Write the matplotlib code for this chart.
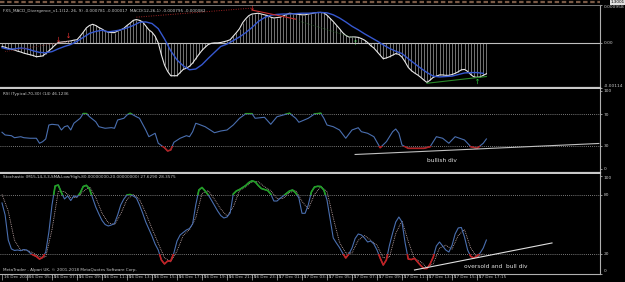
import numpy as np
import matplotlib.pyplot as plt
from matplotlib.patches import Rectangle

plt.rcParams['font.family'] = ['Liberation Sans Narrow', 'DejaVu Sans']

# ---- data: one value per M15 bar (bar 0 = left edge) ----
# FX5 MACD main line / histogram, in units of 1e-5
macd = [-9, -11, -14, -16, -18, -21, -23, -26, -28, -30,
        -32, -35, -34, -33, -27, -20, -13, -5, 1, 2,
        3, 4, 5, 7, 8, 17, 27, 38, 44, 47,
        44, 39, 35, 30, 27, 26, 26, 30, 33, 37,
        44, 50, 57, 59, 57, 53, 43, 33, 27, 17,
        0, -30, -56, -72, -83, -83, -83, -75, -67, -64,
        -59, -51, -40, -29, -19, -11, -4, -1, 0, 0,
        1, 3, 5, 8, 17, 26, 36, 51, 61, 69,
        73, 74, 75, 73, 71, 69, 65, 63, 64, 65,
        68, 72, 75, 74, 73, 72, 71, 71, 73, 74,
        76, 77, 77, 76, 70, 62, 54, 45, 36, 26,
        19, 15, 15, 15, 14, 11, 7, 1, -7, -13,
        -22, -31, -40, -38, -35, -31, -27, -29, -36, -48,
        -62, -70, -76, -81, -87, -94, -100, -94, -87, -84,
        -81, -81, -82, -82, -80, -77, -73, -68, -67, -72,
        -80, -86, -87, -86, -82, -78]
# signal line, every second bar, 1e-5
macd_sig = [-12, -16, -15, -13, -15, -20, -24, -25, -22, -15,
            -9, -4, 4, 14, 24, 29, 32, 28, 30, 33,
            38, 44, 52, 53, 49, 36, 10, -20, -43, -58,
            -68, -66, -55, -39, -24, -9, -3, 6, 15, 26,
            39, 54, 64, 70, 72, 73, 73, 74, 75, 75,
            76, 77, 76, 71, 63, 53, 42, 33, 23, 14,
            5, -5, -14, -21, -27, -40, -52, -64, -75, -84,
            -86, -85, -84, -80, -76, -75, -75, -77]

rsi_bars = [0, 1, 3, 4, 6, 7, 9, 11, 12, 13, 14, 15, 16, 18, 19, 20, 21, 22, 23, 25,
            26, 27, 28, 30, 31, 33, 35, 36, 37, 39, 40, 41, 43, 44, 46, 47, 49, 50, 52, 53,
            54, 55, 57, 59, 60, 61, 62, 63, 65, 68, 70, 72, 74, 76, 78, 80, 81, 84, 86, 88,
            90, 92, 94, 95, 98, 100, 102, 103, 104, 106, 108, 110, 112, 114, 115, 117, 119,
            121, 123, 125, 126, 127, 128, 130, 133, 135, 137, 139, 141, 143, 145, 148, 150,
            152, 154, 155]
rsi_vals = [47.1, 43.6, 42.7, 40.1, 41.4, 40.1, 39.4, 39.4, 33, 35,
            38.5, 56.4, 57.3, 56.4, 50, 54.2, 55.5, 50, 58.6, 65,
            71, 71, 67, 60.6, 54.2, 52.2, 53, 52.2, 62.8, 65,
            69.2, 71.4, 67, 65, 50, 41.4, 45.8, 33, 27.3, 23.1,
            24.4, 34.2, 39.4, 42.7, 41.4, 47.8, 58.6, 57.3, 54.2, 46.5,
            48.7, 50, 56.4, 65, 70.8, 70.8, 65, 66.3, 57.3, 67,
            69.2, 71.4, 65, 59.9, 65, 70.5, 71.4, 65, 56.4, 54.2,
            50, 39.4, 50, 52.9, 47.8, 45.8, 41.4, 27.3, 35, 47.8,
            51.3, 45.8, 30.8, 26.5, 26.5, 26.5, 28.6, 41.4, 39.4, 33,
            41.4, 37.2, 28.6, 26.5, 33, 38.5]

stoch = [72.3, 60, 34.3, 25.2, 23.6, 24.1, 23.4, 24.6, 23.9, 21,
         18.9, 17.5, 14.8, 16.4, 22, 42.5, 70.3, 89.7, 90.7, 83,
         76.4, 79.5, 74.8, 79.5, 78.4, 82.5, 89.2, 90.4, 86.6, 77.4,
         68.2, 61, 54.4, 50.2, 48.7, 49.7, 51.3, 59.9, 70.3, 76.4,
         80.5, 81, 79.5, 77.4, 70.3, 62, 52.8, 45.6, 38.4, 30.2,
         24.1, 13.9, 9.8, 12.8, 12.8, 21, 33.3, 39.5, 42, 44.6,
         46.1, 50.8, 70.3, 85.6, 88.2, 84.6, 80.5, 75.3, 69.7, 64.1,
         59.4, 56.9, 57.9, 62, 81.5, 84.6, 86.1, 88.2, 90.2, 93.3,
         95, 94, 90.2, 87.1, 86.1, 85.1, 81.5, 74.3, 74.3, 77.1,
         79.4, 82, 84.6, 85.6, 82.5, 77.4, 61.7, 61.7, 70.3, 83.6,
         88.7, 89.4, 89.2, 85.6, 75.3, 55.8, 36.4, 31.3, 26.6, 21,
         15.9, 20, 26.1, 35.9, 40.5, 39.5, 36.4, 32.3, 33.3, 30.2,
         24.1, 15.9, 8.7, 13.9, 29.2, 41.5, 52.8, 57.9, 52.8, 31.3,
         14.8, 14.3, 15.6, 11.8, 8.2, 5.1, 5.1, 9.8, 16.9, 28.2,
         32.3, 28.2, 24.1, 22, 28.7, 40.5, 46.7, 47.2, 37.4, 24.1,
         17.5, 15.9, 17.9, 21, 26.1, 34.3]
stoch_sig = [81, 64, 34, 24, 24, 21, 17, 17, 45, 84,
             84, 78, 78, 84, 89, 78, 62, 52, 50, 61,
             76, 81, 76, 62, 46, 31, 16, 12, 23, 39,
             45, 57, 82, 85, 76, 66, 59, 68, 85, 89,
             94, 94, 89, 85, 77, 77, 83, 85, 74, 66,
             81, 89, 84, 57, 32, 21, 21, 34, 39, 34,
             29, 16, 17, 41, 54, 33, 15, 12, 6, 10,
             26, 29, 25, 39, 45, 26, 17, 20]

# hand-drawn objects on the chart
red_dot_bars, red_dot_vals = [43, 80], [65, 88]
red_div_bars, red_div_vals = [80, 94], [83, 60]
grn_dot_bars, grn_dot_vals = [95, 113], [55, 12]
left_dot_bars, left_dot_vals = [1, 22], [-22, 5]
grn_div_bars, grn_div_vals = [136, 155], [-102, -85]
red_arrow_bars, red_arrow_vals = [18, 21, 80], [9, 19, 92]
grn_arrow_bars, grn_arrow_vals = [113, 152], [2, -97]
rsi_trend_bars, rsi_trend_vals = [113, 191], [18.6, 32.7]
sto_trend_bars, sto_trend_vals = [132, 176], [3.6, 31.3]

time_labels = ["16 Dec 2019", "16 Dec 05:15", "16 Dec 07:15", "16 Dec 09:15", "16 Dec 11:15",
               "16 Dec 13:15", "16 Dec 15:15", "16 Dec 17:15", "16 Dec 19:15", "16 Dec 21:15",
               "16 Dec 23:15", "17 Dec 01:15", "17 Dec 03:15", "17 Dec 05:15", "17 Dec 07:15",
               "17 Dec 09:15", "17 Dec 11:15", "17 Dec 13:15", "17 Dec 15:15", "17 Dec 17:15"]

bars = np.arange(len(macd))
sig_bars = np.arange(0, len(macd), 2)
macd_v = np.array(macd) * 1e-5
sig_v = np.array(macd_sig) * 1e-5

TXT = '#c8c8c8'
GRID = '#a0a0a0'
W, H = 625, 282

fig = plt.figure(figsize=(6.25, 2.82), dpi=100, facecolor='black')


def panel(top, bottom):
    ax = fig.add_axes([0, 1 - bottom / H, 600 / W, (bottom - top) / H])
    ax.set_facecolor('black')
    ax.set_xlim(-0.64, 191.36)
    for s in ax.spines.values():
        s.set_visible(False)
    ax.spines['right'].set_visible(True)
    ax.spines['right'].set_color('#b0b0b0')
    ax.spines['right'].set_linewidth(0.8)
    ax.yaxis.tick_right()
    ax.tick_params(axis='y', colors='#b0b0b0', labelcolor=TXT, labelsize=3.2,
                   length=1.5, width=0.6, pad=1)
    ax.set_xticks([])
    return ax


def colored(ax, x, y, hi, lo, base, up, down, lw):
    ax.plot(x, y, color=base, lw=lw)
    for c, y0, y1 in ((up, hi, 1000), (down, -1000, lo)):
        ln, = ax.plot(x, y, color=c, lw=lw * 1.5)
        ln.set_clip_path(Rectangle((-50, y0), 400, y1 - y0, transform=ax.transData))


# top strip (remnant of main chart)
ax0 = fig.add_axes([0, 1 - 4.5 / H, 600 / W, 4.5 / H])
ax0.set_facecolor('black')
ax0.set_axis_off()
ax0.set_xlim(0, 1)
ax0.set_ylim(0, 1)
ax0.axhline(0.5, color='#7a5a46', lw=1.6, ls=(0, (2, 1.2)))
fig.text(611 / W, 1 - 2.4 / H, '1.3001', fontsize=3, color='black', va='center',
         bbox=dict(boxstyle='square,pad=0.2', fc='#e0e0e0', ec='none'))

# MACD panel
ax1 = panel(5, 88)
ax1.spines['bottom'].set_visible(True)
ax1.spines['bottom'].set_color('#c8c8c8')
ax1.spines['bottom'].set_linewidth(1.6)
ax1.spines['top'].set_visible(True)
ax1.spines['top'].set_color('#8a8a8a')
ax1.spines['top'].set_linewidth(0.6)
ax1.set_ylim(-0.00114, 0.000958)
ax1.axhline(0, color='#c0c0c0', lw=0.8)
ax1.vlines(bars, 0, macd_v, color='#b4b4b4', lw=0.45)
ax1.plot(bars, macd_v, color='#e8e8e8', lw=0.8)
ax1.plot(sig_bars, sig_v, color='#3658d0', lw=1.0)
ax1.plot(red_dot_bars, np.array(red_dot_vals) * 1e-5, color='#a02424', lw=0.7, ls=(0, (1, 1.5)))
ax1.plot(left_dot_bars, np.array(left_dot_vals) * 1e-5, color='#7a2020', lw=0.6, ls=(0, (1, 1.5)))
ax1.plot(red_div_bars, np.array(red_div_vals) * 1e-5, color='#c83030', lw=0.8)
ax1.plot(grn_dot_bars, np.array(grn_dot_vals) * 1e-5, color='#1f5f1f', lw=0.6, ls=(0, (1, 1.5)))
ax1.plot(grn_div_bars, np.array(grn_div_vals) * 1e-5, color='#2a8a2a', lw=0.8)
ax1.scatter(red_arrow_bars, np.array(red_arrow_vals) * 1e-5, marker=r'$\downarrow$',
            s=14, color='#e03030', lw=0)
ax1.scatter(grn_arrow_bars, np.array(grn_arrow_vals) * 1e-5, marker=r'$\uparrow$',
            s=14, color='#30d040', lw=0)
ax1.set_yticks([0.000958, 0, -0.00114])
ax1.set_yticklabels(['0.000958', '0.00', '-0.00114'])
for t, va in zip(ax1.get_yticklabels(), ['top', 'center', 'bottom']):
    t.set_va(va)
ax1.text(0.005, 0.95, 'FX5_MACD_Divergence_v1.1(12, 26, 9) -0.000781 -0.000017  '
         'MACD(12,26,1) -0.000795 -0.000082', transform=ax1.transAxes,
         fontsize=3, color=TXT, va='top')

# RSI panel
ax2 = panel(89.5, 172.5)
ax2.spines['bottom'].set_visible(True)
ax2.spines['bottom'].set_color('#c8c8c8')
ax2.spines['bottom'].set_linewidth(1.6)
ax2.set_ylim(-4.5, 101.9)
for lv in (70, 30):
    ax2.axhline(lv, color=GRID, lw=0.6, ls=(0, (1, 1.5)))
colored(ax2, rsi_bars, rsi_vals, 70, 30, '#4a6fb0', '#2e9a2e', '#b02222', 0.8)
ax2.plot(rsi_trend_bars, rsi_trend_vals, color='#c0c0c0', lw=0.8)
ax2.text(136, 10.3, 'bullish div', fontsize=4.2, color='#e0e0e0', va='center')
ax2.set_yticks([100, 70, 30, 0])
ax2.set_yticklabels(['100', '70', '30', '0'])
ax2.text(0.005, 0.97, 'RSI (Typical,70,30) (14) 46.1236', transform=ax2.transAxes,
         fontsize=3, color=TXT, va='top')

# Stochastic panel
ax3 = panel(174, 273.5)
ax3.spines['bottom'].set_visible(True)
ax3.spines['bottom'].set_color('#b0b0b0')
ax3.spines['bottom'].set_linewidth(0.8)
ax3.set_ylim(0, 102)
for lv in (80, 20):
    ax3.axhline(lv, color=GRID, lw=0.6, ls=(0, (1, 1.5)))
ax3.plot(sig_bars, stoch_sig, color='#d0b4b4', lw=0.6, ls=(0, (1, 1.2)))
colored(ax3, bars, stoch, 80, 20, '#4a6fb0', '#22a022', '#c42020', 0.8)
ax3.plot(sto_trend_bars, sto_trend_vals, color='#e0e0e0', lw=0.8)
ax3.text(148, 7, 'oversold and  bull div', fontsize=4.2, color='#e0e0e0', va='center')
ax3.set_yticks([100, 80, 20, 0])
ax3.set_yticklabels(['100', '80', '20', '0'])
for t, va in zip(ax3.get_yticklabels(), ['top', 'center', 'center', 'bottom']):
    t.set_va(va)
ax3.text(0.005, 0.985, 'Stochastic (M15,14,3,3,SMA,Low/High,80.00000000,20.00000000) 27.6290 28.3575',
         transform=ax3.transAxes, fontsize=3, color=TXT, va='top')
ax3.text(0.005, 0.015, 'MetaTrader - Alpari UK, \u00a9 2001-2018 MetaQuotes Software Corp.',
         transform=ax3.transAxes, fontsize=3, color=TXT, va='bottom')

# time axis
tick_bars = np.arange(0, 8 * len(time_labels), 8)
ax3.set_xticks(tick_bars)
ax3.tick_params(axis='x', direction='out', length=4, width=0.5, colors='#b0b0b0',
                labelbottom=False)
xform = ax3.get_xaxis_transform()
for b, lab in zip(tick_bars, time_labels):
    ax3.text(b + 0.5, -0.012, lab, transform=xform, fontsize=3, color=TXT,
             va='top', ha='left')

fig.savefig('out.png', dpi=100, facecolor='black')
